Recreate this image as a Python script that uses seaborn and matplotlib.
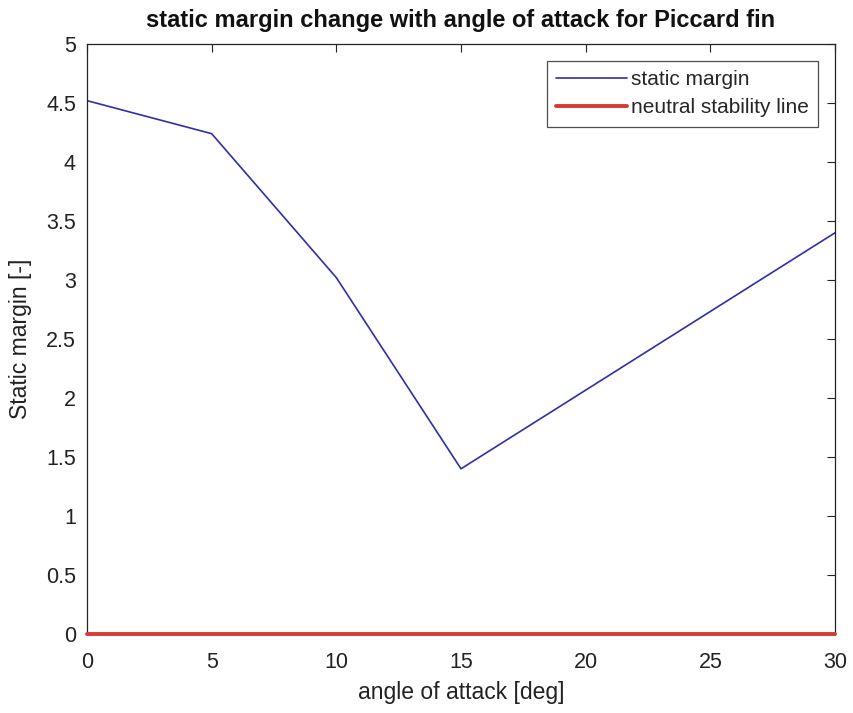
import matplotlib
matplotlib.use("Agg")
import matplotlib.pyplot as plt
import seaborn as sns
import pandas as pd

angle = [0, 5, 10, 15, 30]
static_margin = [4.52, 4.24, 3.02, 1.40, 3.40]
neutral_x = [0, 30]
neutral_y = [0, 0]
xticks = [0, 5, 10, 15, 20, 25, 30]
yticks = [0, 0.5, 1, 1.5, 2, 2.5, 3, 3.5, 4, 4.5, 5]

sns.set_style("white")
plt.rcParams['font.family'] = ['Liberation Sans', 'DejaVu Sans']

fig = plt.figure(figsize=(8.54, 7.13), dpi=100)
ax = fig.add_axes([87/854, 1-634/713, (835-87)/854, (634-44)/713])

df_sm = pd.DataFrame({"angle": angle, "sm": static_margin})
df_n = pd.DataFrame({"angle": neutral_x, "sm": neutral_y})
sns.lineplot(data=df_sm, x="angle", y="sm", ax=ax, color="#2f2fa8", linewidth=1.2, label="static margin")
sns.lineplot(data=df_n, x="angle", y="sm", ax=ax, color="#d83838", linewidth=2.8, label="neutral stability line")
for ln in ax.get_lines()[1:]:
    ln.set_clip_on(False)
    ln.set_zorder(5)

ax.set_xlim(0, 30)
ax.set_ylim(0, 5)
ax.set_xticks(xticks)
ax.set_yticks(yticks)
ax.set_xticklabels([str(t) for t in xticks])
ax.set_yticklabels([("%g" % t) for t in yticks])
ax.tick_params(direction="in", length=6, width=0.8, top=True, right=True, labelsize=15.5, colors="#222222")
ax.tick_params(axis="x", pad=13)
ax.tick_params(axis="y", pad=8)
for s in ax.spines.values():
    s.set_color("#222222")
    s.set_linewidth(0.9)
ax.set_xlabel("angle of attack [deg]", fontsize=16.5, color="#222222", labelpad=6)
ax.set_ylabel("Static margin [-]", fontsize=16.5, color="#222222", labelpad=10)
ax.set_title("static margin change with angle of attack for Piccard fin", fontsize=17, fontweight="bold", color="#111111", pad=12)
leg = ax.legend(loc="upper right", fontsize=15, frameon=True, fancybox=False, edgecolor="#222222",
                handlelength=3.4, handletextpad=0.2, borderaxespad=0.8, borderpad=0.45, labelspacing=0.45)
leg.get_frame().set_linewidth(0.9)
fig.savefig("out.png", dpi=100)
